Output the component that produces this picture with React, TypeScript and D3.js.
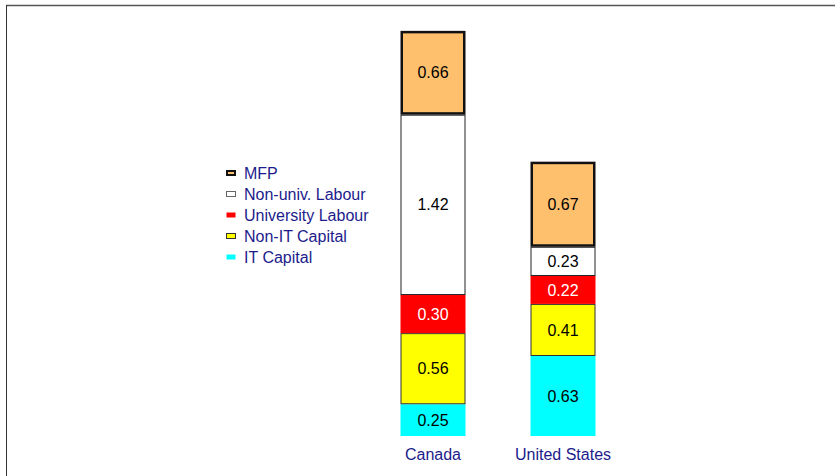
import { useEffect, useRef } from "react";
import * as d3 from "d3";

const countries = ["Canada", "United States"];
const components = ["IT Capital", "Non-IT Capital", "University Labour", "Non-univ. Labour", "MFP"];
const canadaValues = [0.25, 0.56, 0.30, 1.42, 0.66];
const usValues = [0.63, 0.41, 0.22, 0.23, 0.67];
const legendOrder = ["MFP", "Non-univ. Labour", "University Labour", "Non-IT Capital", "IT Capital"];

const fills: Record<string, string> = {
    "IT Capital": "#00FFFF",
    "Non-IT Capital": "#FFFF00",
    "University Labour": "#FF0000",
    "Non-univ. Labour": "#FFFFFF",
    "MFP": "#FFC06E",
};
const strokes: Record<string, string | null> = {
    "IT Capital": null,
    "Non-IT Capital": "#333333",
    "University Labour": null,
    "Non-univ. Labour": "#222222",
    "MFP": "#111111",
};
const strokeWidths: Record<string, number> = {
    "IT Capital": 0,
    "Non-IT Capital": 1,
    "University Labour": 0,
    "Non-univ. Labour": 1,
    "MFP": 2.5,
};

export default function App() {
    const svgRef = useRef<SVGSVGElement>(null);

    useEffect(() => {
        if (!svgRef.current) return;
        const svg = d3.select(svgRef.current);
        svg.selectAll("*").remove();

        const width = 835;
        const height = 476;
        const font = "Liberation Sans, Arial, sans-serif";
        const navy = "#1C1C8C";

        // frame lines (top and left)
        svg.append("line")
            .attr("x1", 6).attr("x2", width).attr("y1", 5.5).attr("y2", 5.5)
            .attr("stroke", "#555").attr("stroke-width", 1.5);
        svg.append("line")
            .attr("x1", 6.5).attr("x2", 6.5).attr("y1", 5).attr("y2", height)
            .attr("stroke", "#333").attr("stroke-width", 1);

        const x = d3.scaleBand<string>()
            .domain(countries)
            .range([368, 628])
            .paddingInner(0.5)
            .paddingOuter(0.25);

        const y = d3.scaleLinear()
            .domain([0, 3.5])
            .range([436, 436 - 3.5 * 127]);

        const table = [canadaValues, usValues].map((vals, i) => {
            const row: any = { country: countries[i] };
            components.forEach((c, j) => (row[c] = vals[j]));
            return row;
        });

        const series = d3.stack().keys(components)(table);

        series.forEach(s => {
            const key = s.key;
            s.forEach((d: any, i) => {
                const x0 = x(countries[i])!;
                const bw = x.bandwidth();
                const yTop = y(d[1]);
                const yBot = y(d[0]);
                const sw = strokeWidths[key];
                svg.append("rect")
                    .attr("x", x0 + sw / 2)
                    .attr("y", yTop + sw / 2)
                    .attr("width", bw - sw)
                    .attr("height", yBot - yTop - sw)
                    .attr("fill", fills[key])
                    .attr("stroke", strokes[key] ?? "none")
                    .attr("stroke-width", sw);
                const v = d[1] - d[0];
                svg.append("text")
                    .attr("x", x0 + bw / 2)
                    .attr("y", (yTop + yBot) / 2)
                    .attr("dy", "0.35em")
                    .attr("text-anchor", "middle")
                    .attr("font-family", font)
                    .attr("font-size", 16)
                    .attr("fill", key === "University Labour" ? "#FFFFFF" : "#000000")
                    .text(d3.format(".2f")(v));
            });
        });

        // category labels
        countries.forEach(c => {
            svg.append("text")
                .attr("x", x(c)! + x.bandwidth() / 2)
                .attr("y", 460)
                .attr("text-anchor", "middle")
                .attr("font-family", font)
                .attr("font-size", 16)
                .attr("fill", navy)
                .text(c);
        });

        // legend
        const lg = svg.append("g").attr("transform", "translate(226,173)");
        legendOrder.forEach((k, i) => {
            const gy = i * 21;
            const sw = k === "MFP" ? 2 : 1;
            lg.append("rect")
                .attr("x", sw / 2)
                .attr("y", gy - 3 + sw / 2)
                .attr("width", 10 - sw)
                .attr("height", 6 - sw)
                .attr("fill", fills[k])
                .attr("stroke", k === "Non-univ. Labour" ? "#666" : (strokes[k] ?? "none"))
                .attr("stroke-width", strokes[k] || k === "Non-univ. Labour" ? sw : 0);
            lg.append("text")
                .attr("x", 18)
                .attr("y", gy)
                .attr("dy", "0.35em")
                .attr("font-family", font)
                .attr("font-size", 16)
                .attr("fill", navy)
                .text(k);
        });
    }, []);

    return (
        <svg
            ref={svgRef}
            width={835}
            height={476}
            style={{ position: "absolute", left: 0, top: 0, background: "#fff" }}
        ></svg>
    );
}
